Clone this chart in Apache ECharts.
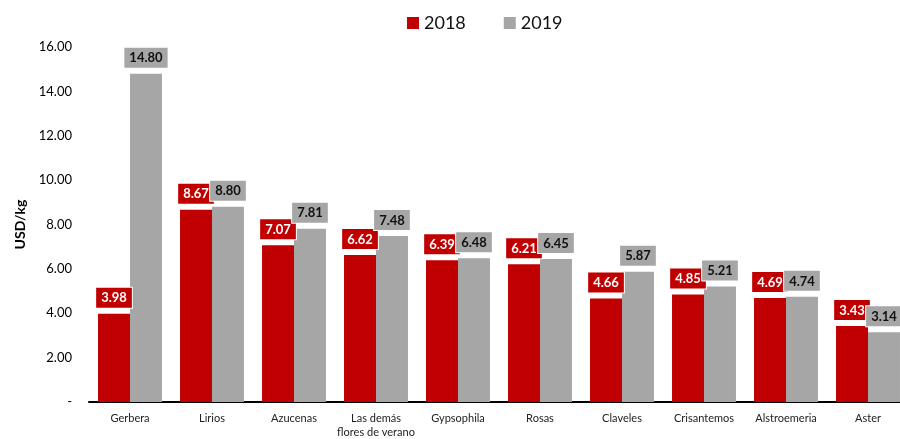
<!DOCTYPE html>
<html>
<head>
<meta charset="utf-8">
<script src="https://cdn.jsdelivr.net/npm/echarts@6/dist/echarts.min.js"></script>
<style>
  html, body { margin: 0; padding: 0; background: #fff; overflow: hidden; }
  /* the source chart is cut off at the right edge, so the canvas runs a bit past the window */
  #chart { width: 910px; height: 439px; }
</style>
</head>
<body>
<div id="chart"></div>
<script>
// categorías y precios (USD/kg)
const categories = ['Gerbera', 'Lirios', 'Azucenas', 'Las demás\nflores de verano', 'Gypsophila',
  'Rosas', 'Claveles', 'Crisantemos', 'Alstroemeria', 'Aster'];
const values2018 = [3.98, 8.67, 7.07, 6.62, 6.39, 6.21, 4.66, 4.85, 4.69, 3.43];
const values2019 = [14.80, 8.80, 7.81, 7.48, 6.48, 6.45, 5.87, 5.21, 4.74, 3.14];
const yTicks = [0, 2, 4, 6, 8, 10, 12, 14, 16];

const RED = '#c00000';
const GRAY = '#a6a6a6';
const FONT = 'Lato, "Open Sans", sans-serif';

const chart = echarts.init(document.getElementById('chart'));

const labelStyle = (bg, fg) => ({
  show: true,
  position: 'top',
  distance: 6,
  formatter: p => p.value.toFixed(2),
  backgroundColor: bg,
  borderColor: '#fff',
  borderWidth: 1,
  padding: [4, 5, 3, 5],
  color: fg,
  fontFamily: FONT,
  fontWeight: 'bold',
  fontSize: 13
});

chart.setOption({
  animation: false,
  legend: {
    top: 9,
    left: 402,
    itemWidth: 12,
    itemHeight: 12,
    itemGap: 38,
    icon: 'rect',
    textStyle: { fontFamily: FONT, fontSize: 18, color: '#111' },
    data: ['2018', '2019']
  },
  grid: { left: 89, right: 1, top: 47, bottom: 35 },
  xAxis: {
    type: 'category',
    data: categories,
    axisLine: { lineStyle: { color: '#000', width: 2 } },
    axisTick: { alignWithLabel: true, length: 4, lineStyle: { color: '#000', width: 2 } },
    axisLabel: { fontFamily: FONT, fontSize: 11, color: '#222', margin: 9, lineHeight: 14, interval: 0 }
  },
  yAxis: {
    type: 'value',
    min: yTicks[0],
    max: yTicks[yTicks.length - 1],
    interval: 2,
    name: 'USD/kg',
    nameLocation: 'middle',
    nameGap: 62,
    nameRotate: 90,
    nameTextStyle: { fontFamily: FONT, fontSize: 14, fontWeight: 'bold', color: '#000' },
    axisLine: { show: false },
    axisTick: { show: false },
    splitLine: { show: false },
    axisLabel: {
      fontFamily: FONT, fontSize: 13, color: '#000', margin: 17,
      formatter: v => (v === 0 ? '-' : v.toFixed(2))
    }
  },
  series: [
    {
      name: '2018', type: 'bar', data: values2018,
      barGap: '0%', barCategoryGap: '22%',
      itemStyle: { color: RED },
      label: labelStyle(RED, '#fff')
    },
    {
      name: '2019', type: 'bar', data: values2019,
      itemStyle: { color: GRAY },
      label: labelStyle(GRAY, '#111')
    }
  ]
});
</script>
</body>
</html>
